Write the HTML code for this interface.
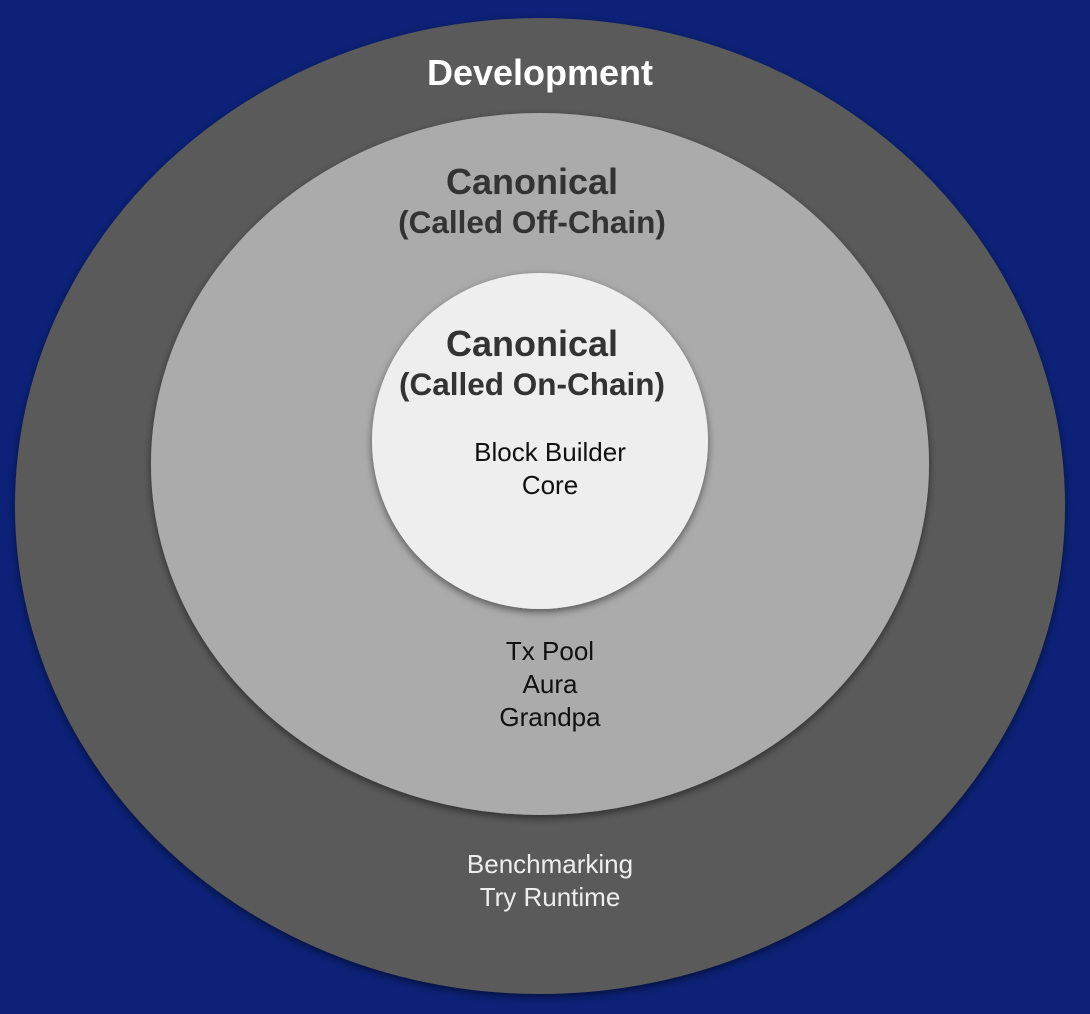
<!DOCTYPE html>
<html><head><meta charset="utf-8"><style>
html,body{margin:0;padding:0;background:#0c2177;}
svg{display:block}
text{font-family:"Liberation Sans",sans-serif;text-anchor:middle}
</style></head><body>
<svg width="1090" height="1014" viewBox="0 0 1090 1014">
<defs>
<filter id="sh" x="-10%" y="-10%" width="120%" height="120%">
<feDropShadow dx="0" dy="3" stdDeviation="4" flood-color="#000" flood-opacity="0.5"/>
</filter>
</defs>
<rect width="1090" height="1014" fill="#0c2177"/>
<ellipse cx="540" cy="506" rx="525" ry="488" fill="#5a5a5a" filter="url(#sh)"/>
<ellipse cx="540" cy="464" rx="389" ry="351" fill="#ababab" filter="url(#sh)"/>
<circle cx="540" cy="441" r="168" fill="#eeeeee" filter="url(#sh)"/>
<text x="540" y="85" font-size="36" font-weight="bold" fill="#fff">Development</text>
<text x="532" y="194" font-size="36" font-weight="bold" fill="#333">Canonical</text>
<text x="532" y="233" font-size="31.5" font-weight="bold" fill="#333">(Called Off-Chain)</text>
<text x="532" y="356" font-size="36" font-weight="bold" fill="#333">Canonical</text>
<text x="532" y="395" font-size="31.5" font-weight="bold" fill="#333">(Called On-Chain)</text>
<g font-size="26" fill="#111">
<text x="550" y="461">Block Builder</text>
<text x="550" y="494">Core</text>
<text x="550" y="660">Tx Pool</text>
<text x="550" y="693">Aura</text>
<text x="550" y="726">Grandpa</text>
</g>
<g font-size="26" fill="#eeeeee">
<text x="550" y="873">Benchmarking</text>
<text x="550" y="906">Try Runtime</text>
</g>
</svg>
</body></html>
